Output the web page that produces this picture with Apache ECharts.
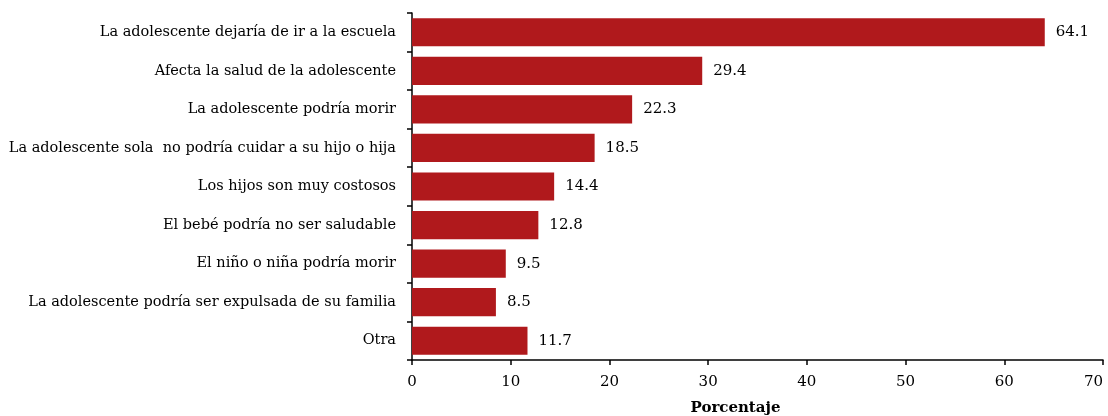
<!DOCTYPE html>
<html>
<head>
<meta charset="utf-8">
<script src="https://cdn.jsdelivr.net/npm/echarts@6/dist/echarts.min.js"></script>
<style>
  html, body { margin: 0; padding: 0; background: #fff; }
  #chart { width: 1108px; height: 416px; }
</style>
</head>
<body>
<div id="chart"></div>
<script>
// categorías de arriba hacia abajo
const categories = [
  'La adolescente dejaría de ir a la escuela',
  'Afecta la salud de la adolescente',
  'La adolescente podría morir',
  'La adolescente sola  no podría cuidar a su hijo o hija',
  'Los hijos son muy costosos',
  'El bebé podría no ser saludable',
  'El niño o niña podría morir',
  'La adolescente podría ser expulsada de su familia',
  'Otra'
];
const values = [64.1, 29.4, 22.3, 18.5, 14.4, 12.8, 9.5, 8.5, 11.7];
const xTicks = [0, 10, 20, 30, 40, 50, 60, 70];

const font = '"DejaVu Serif", serif';

const chart = echarts.init(document.getElementById('chart'));
chart.setOption({
  animation: false,
  grid: { left: 412, right: 5, top: 13, bottom: 56, outerBoundsMode: 'none', containLabel: false },
  xAxis: {
    type: 'value',
    min: xTicks[0],
    max: xTicks[xTicks.length - 1],
    interval: 10,
    name: 'Porcentaje',
    nameLocation: 'middle',
    nameGap: 41,
    nameTextStyle: { fontFamily: font, fontWeight: 'bold', fontSize: 15, color: '#000', padding: [0, 44, 0, 0] },
    axisLine: { show: true, lineStyle: { color: '#000', width: 1.5 } },
    axisTick: { show: true, length: 5, lineStyle: { color: '#000', width: 1.5 } },
    axisLabel: { fontFamily: font, fontSize: 15, color: '#000', margin: 15, alignMaxLabel: 'right' },
    splitLine: { show: false }
  },
  yAxis: {
    type: 'category',
    inverse: true,
    data: categories,
    axisLine: { show: true, lineStyle: { color: '#000', width: 1.5 } },
    axisTick: { show: true, length: 5, lineStyle: { color: '#000', width: 1.5 } },
    axisLabel: { fontFamily: font, fontSize: 14.5, color: '#000', margin: 16 }
  },
  series: [{
    type: 'bar',
    data: values,
    barCategoryGap: '27%',
    itemStyle: { color: '#B0191C' },
    label: {
      show: true,
      position: 'right',
      distance: 11,
      fontFamily: font,
      fontSize: 15,
      color: '#000',
      formatter: p => p.value.toFixed(1)
    }
  }]
});
</script>
</body>
</html>
